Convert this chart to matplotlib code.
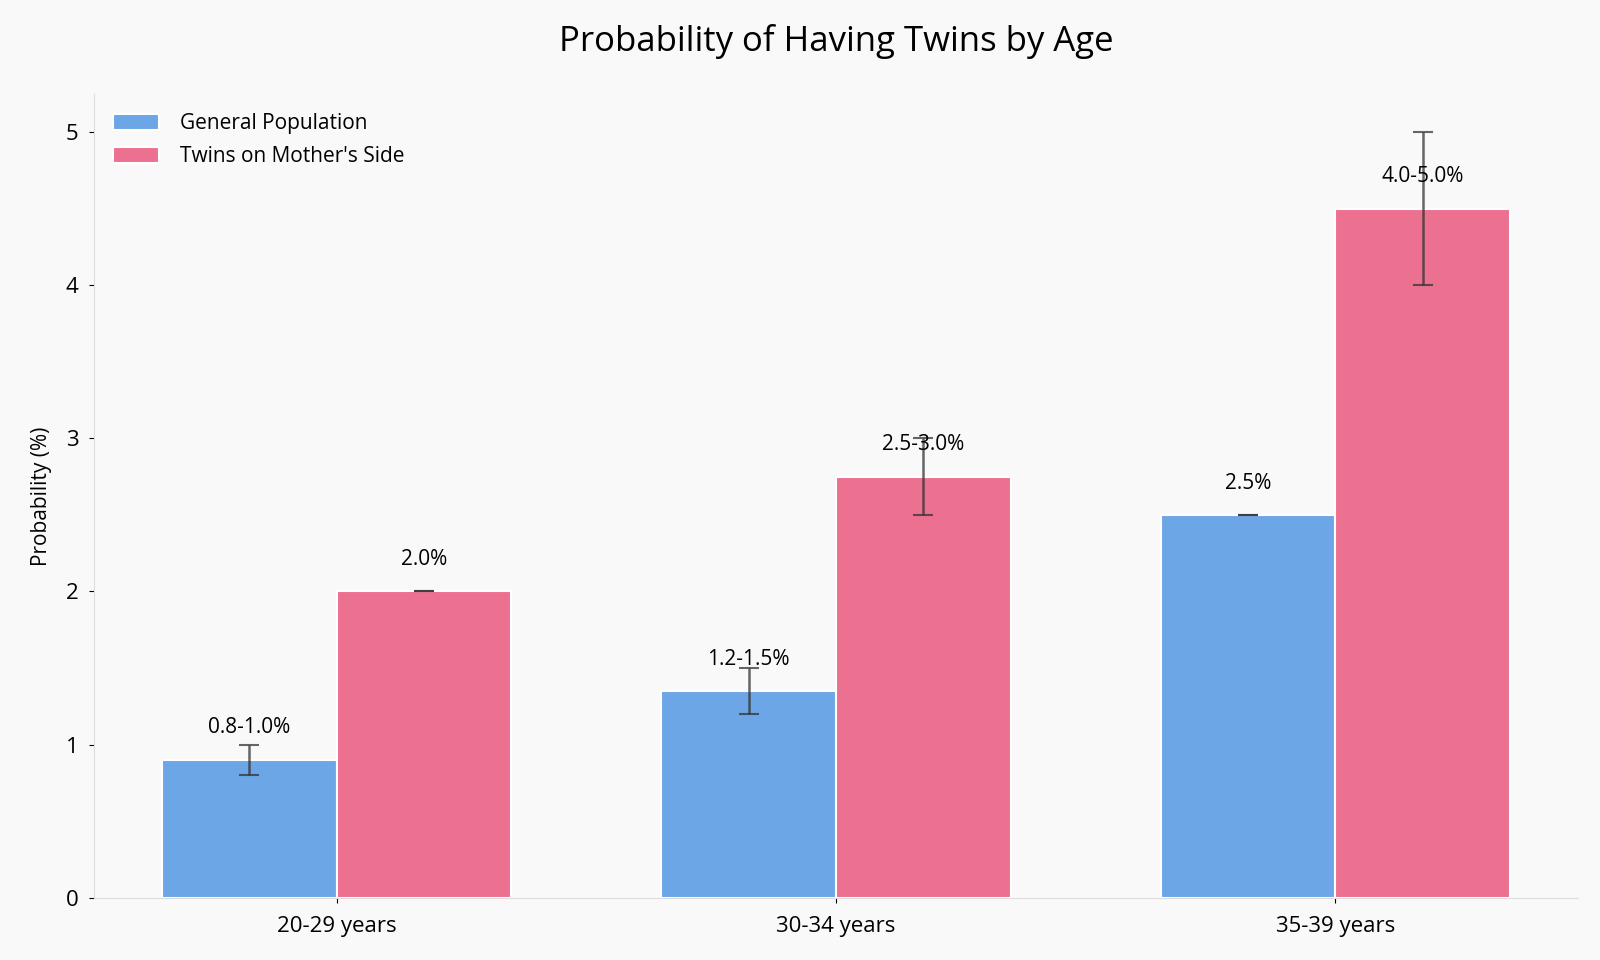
import numpy as np
import matplotlib.pyplot as plt

plt.rcParams['font.family'] = ['Open Sans', 'DejaVu Sans']

categories = ["20-29 years", "30-34 years", "35-39 years"]
general = [0.9, 1.35, 2.5]
general_low = [0.8, 1.2, 2.5]
general_high = [1.0, 1.5, 2.5]
mother = [2.0, 2.75, 4.5]
mother_low = [2.0, 2.5, 4.0]
mother_high = [2.0, 3.0, 5.0]
general_labels = ["0.8-1.0%", "1.2-1.5%", "2.5%"]
mother_labels = ["2.0%", "2.5-3.0%", "4.0-5.0%"]

bg = "#f9f9f9"
fig, ax = plt.subplots(figsize=(16, 9.6), dpi=100)
fig.patch.set_facecolor(bg)
ax.set_facecolor(bg)

x = np.arange(len(categories))
w = 0.35


def yerr(vals, lo, hi):
    return [np.array(vals) - np.array(lo), np.array(hi) - np.array(vals)]


err_kw = dict(ecolor=(0.2, 0.2, 0.2, 0.75), capsize=7, elinewidth=1.8, capthick=1.5)
ax.bar(x - w / 2, general, w, color="#6ca6e6", edgecolor="white", linewidth=1.5,
       label="General Population", yerr=yerr(general, general_low, general_high),
       error_kw=err_kw)
ax.bar(x + w / 2, mother, w, color="#ec7090", edgecolor="white", linewidth=1.5,
       label="Twins on Mother's Side", yerr=yerr(mother, mother_low, mother_high),
       error_kw=err_kw)

for xi, h, lab in zip(x - w / 2, general, general_labels):
    ax.text(xi, h + 0.14, lab, ha="center", va="bottom", fontsize=15)
for xi, h, lab in zip(x + w / 2, mother, mother_labels):
    ax.text(xi, h + 0.14, lab, ha="center", va="bottom", fontsize=15)

ax.set_xticks(x)
ax.set_xticklabels(categories, fontsize=16)
ax.tick_params(axis="x", pad=10)
ax.tick_params(axis="y", labelsize=16, pad=8)
ax.set_ylabel("Probability (%)", fontsize=15, labelpad=10)
ax.set_title("Probability of Having Twins by Age", fontsize=25, pad=31)

for s in ["top", "right"]:
    ax.spines[s].set_visible(False)
for s in ["left", "bottom"]:
    ax.spines[s].set_color("#dddddd")

ax.legend(loc="upper left", frameon=False, fontsize=15, handlelength=2.2,
          handleheight=0.8, handletextpad=1.0, labelspacing=0.6)

fig.subplots_adjust(left=0.059, right=0.986, top=0.902, bottom=0.065)
fig.savefig("out.png", facecolor=bg)
